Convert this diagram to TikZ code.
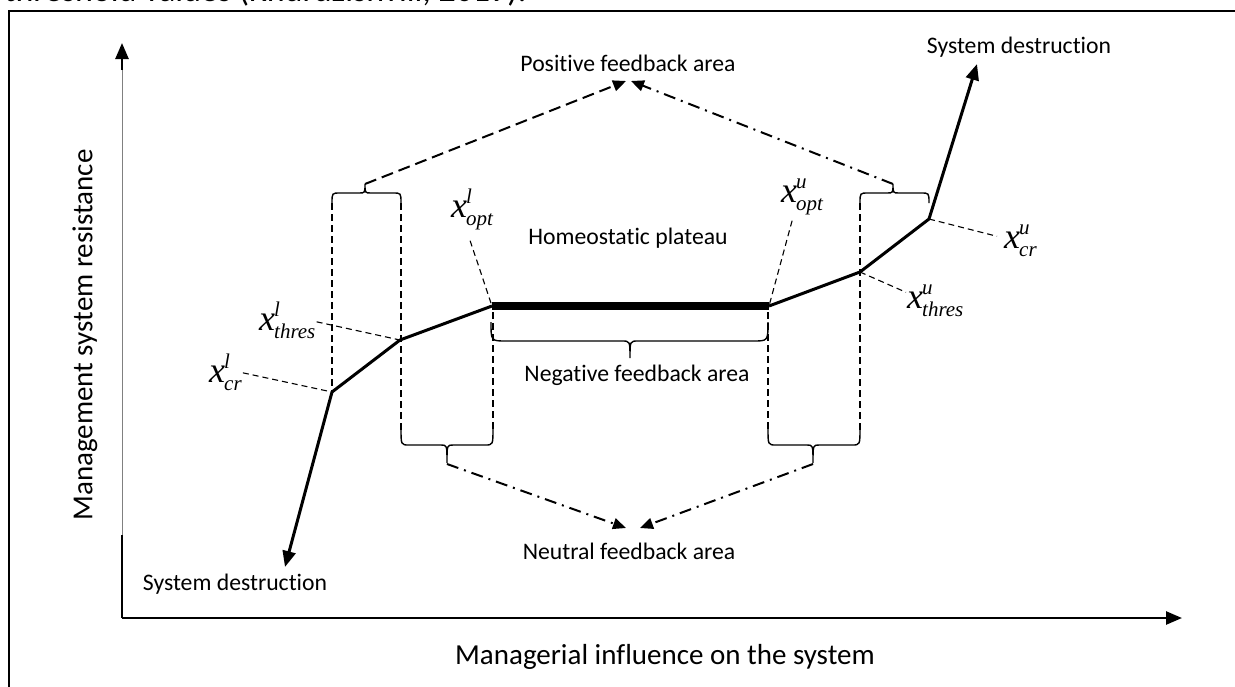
\documentclass[tikz,border=0pt]{standalone}
\usepackage{fontspec}
\setmainfont{Carlito}[Ligatures=NoCommon]
\newfontfamily\tms{Liberation Serif}
\usetikzlibrary{arrows.meta,calc}
\newcommand\xlab[2]{{\tms\itshape\fontsize{36}{36}\selectfont x}\kern-1pt{\tms\itshape\fontsize{21}{21}\selectfont\rlap{\raisebox{14pt}{#1}}\raisebox{-8pt}{#2}}}
\newcommand\hbrace[6]{%
  \draw[bracestyle] (#1,#3) .. controls (#1,#4) .. ({#1+8},#4) -- ({#5-6},#4)
    .. controls (#5,#4) .. (#5,#6) .. controls (#5,#4) .. ({#5+6},#4)
    -- ({#2-8},#4) .. controls (#2,#4) .. (#2,#3);}
\tikzset{
  txt/.style={font=\fontsize{23.7}{26}\selectfont, inner sep=0pt},
  axlab/.style={font=\fontsize{29}{32}\selectfont, inner sep=0pt},
  xl/.style={inner sep=1pt, anchor=base west},
  curve/.style={line width=3pt, line join=round},
  plateau/.style={line width=8pt},
  guide/.style={dash pattern=on 7pt off 4pt, line width=1.3pt},
  leader/.style={dash pattern=on 6pt off 4pt, line width=1.1pt},
  fbdash/.style={dash pattern=on 12pt off 6pt, line width=2pt},
  fbdot/.style={dash pattern=on 12pt off 6pt on 2pt off 6pt, line width=2pt},
  bracestyle/.style={line width=1.4pt},
  bigtip/.style={-{Triangle[length=16pt,width=13pt]}},
  smalltip/.style={-{Triangle[length=13pt,width=11pt]}},
  axis/.style={line width=2.5pt}
}
\begin{document}
\begin{tikzpicture}[x=1pt,y=-1pt]
\useasboundingbox (0,0) rectangle (1235,686);
% caption remnant (clipped by page)
\node[anchor=base west, inner sep=0pt, font=\fontsize{34}{36}\selectfont] (cap) at (4,1) {threshold values (Khurdzishvili, 2019).};
% frame
\draw[line width=2pt] (9,11) rectangle (1250,700);
% axes
\coordinate (O) at (122,618);
\coordinate (Ytip) at (122,43);
\coordinate (Xtip) at (1182,618);
\coordinate (Ylo) at (122,535);
\coordinate (Yhi) at (122,70);
\draw[axis] (O) -- (Ylo);
\draw[gray, line width=0.8pt] (Ylo) -- (Yhi);
\draw[axis, bigtip] (Yhi) -- (Ytip);
\draw[axis, bigtip] (O) -- (Xtip);
\node[axlab, rotate=90] (ylab) at (85,335) {Management system resistance};
\node[axlab] (xlab) at (665,657) {Managerial influence on the system};
% key points
\coordinate (A) at (285,567);
\coordinate (B) at (332,392);
\coordinate (C) at (400,340);
\coordinate (D) at (492,306);
\coordinate (E) at (769,306);
\coordinate (F) at (860,272);
\coordinate (G) at (929,219);
\coordinate (H) at (977,64);
% vertical guides
\draw[guide] (332,203) -- (B);
\draw[guide] (401,203) -- (401,430);
\draw[guide] (493,312) -- (493,430);
\draw[guide] (768,312) -- (768,430);
\draw[guide] (860,203) -- (860,430);
% braces
\hbrace{332}{401}{203}{193}{365}{184}
\hbrace{860}{929}{203}{193}{893}{184}
\hbrace{401}{493}{428}{445}{447}{463}
\hbrace{768}{860}{428}{445}{813}{463}
\draw[bracestyle] (491,322) .. controls (491,341) .. (506,341) -- (622,341)
  .. controls (630,341) .. (630,358) .. controls (630,341) .. (638,341)
  -- (753,341) .. controls (768,341) .. (768,322);
\coordinate (btl) at (365,184);
\coordinate (btr) at (893,184);
\coordinate (bbl) at (447,464);
\coordinate (bbr) at (813,464);
% main curve
\draw[curve, {Triangle[length=16pt,width=13pt]}-] (A) -- (B) -- (C) -- (D);
\draw[plateau] (D) -- (E);
\draw[curve, bigtip] (E) -- (F) -- (G) -- (H);
% texts
\node[txt] (sdtop) at (1019,47) {System destruction};
\node[txt] (sdbot) at (235,584) {System destruction};
\node[txt] (pos) at (628,63) {Positive feedback area};
\node[txt] (neg) at (637,375) {Negative feedback area};
\node[txt] (neu) at (629,551) {Neutral feedback area};
\node[txt] (homeo) at (628,238) {Homeostatic plateau};
% feedback connectors
\coordinate (pL) at (626,81);
\coordinate (pR) at (631,81);
\coordinate (nL) at (626,528);
\coordinate (nR) at (640,528);
\draw[fbdash, smalltip] (btl) -- (pL);
\draw[fbdot, smalltip] (btr) -- (pR);
\draw[fbdot, smalltip] (bbl) -- (nL);
\draw[fbdot, smalltip] (bbr) -- (nR);
% x labels
\node[xl] (lcrl) at (208,382) {\xlab{l}{cr}};
\node[xl] (lthl) at (258,330) {\xlab{l}{thres}};
\node[xl] (lopl) at (450,217) {\xlab{l}{opt}};
\node[xl] (lopu) at (780,202) {\xlab{u}{opt}};
\node[xl] (lthu) at (906,308) {\xlab{u}{thres}};
\node[xl] (lcru) at (1003,248) {\xlab{u}{cr}};
\draw[leader] ($(lcrl.east)+(0,1)$) -- (B);
\draw[leader] ($(lthl.east)+(0,2)$) -- (C);
\draw[leader] ($(lopl.south)+(-2,10)$) -- (D);
\draw[leader] ($(lopu.south)+(-10,5)$) -- (E);
\draw[leader] (F) -- ($(lthu.west)+(0,-8)$);
\draw[leader] (G) -- ($(lcru.west)+(-6,-4)$);
\end{tikzpicture}
\end{document}
